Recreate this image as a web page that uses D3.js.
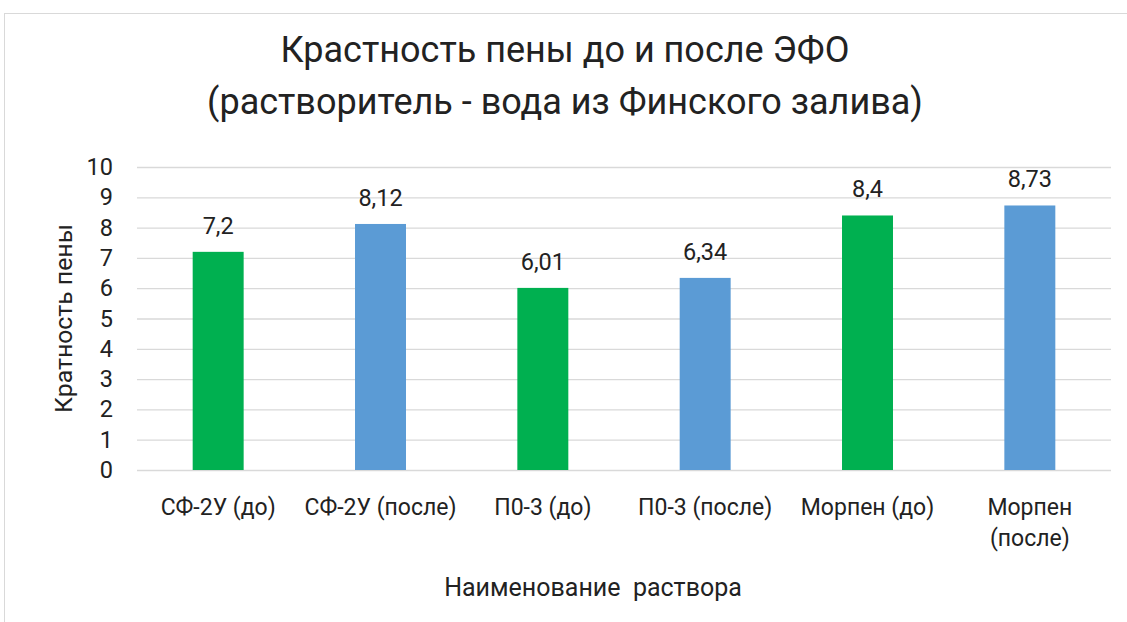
<!DOCTYPE html>
<html>
<head>
<meta charset="utf-8">
<script src="https://cdn.jsdelivr.net/npm/d3@7"></script>
<style>
  body { margin: 0; background: #fff; }
  text { font-family: Roboto, "Noto Sans", sans-serif; fill: #222; }
</style>
</head>
<body>
<svg id="chart"></svg>
<script>
// data
const categories = ["СФ-2У (до)", "СФ-2У (после)", "П0-3 (до)", "П0-3 (после)", "Морпен (до)", "Морпен (после)"];
const values = [7.2, 8.12, 6.01, 6.34, 8.4, 8.73];
const stages = ["до", "после", "до", "после", "до", "после"];
const yTicks = [0, 1, 2, 3, 4, 5, 6, 7, 8, 9, 10];
const titleLines = ["Крастность пены до и после ЭФО", "(растворитель - вода из Финского залива)"];
const yTitle = "Кратность пены";
const xTitle = "Наименование  раствора";

const width = 1127, height = 622;
const margin = { left: 137, right: 16, top: 167, bottom: 152 };

const svg = d3.select("#chart").attr("width", width).attr("height", height);

// chart frame
svg.append("rect")
  .attr("x", 4.5).attr("y", 13.5)
  .attr("width", 1300).attr("height", 800)
  .attr("fill", "#fff").attr("stroke", "#d9d9d9");

const x = d3.scaleBand()
  .domain(categories)
  .range([margin.left, width - margin.right])
  .paddingInner(0.686).paddingOuter(0.343);

const y = d3.scaleLinear().domain([0, 10]).range([height - margin.bottom, margin.top]);

const color = d3.scaleOrdinal().domain(["до", "после"]).range(["#00b050", "#5b9bd5"]);

// gridlines
svg.append("g")
  .selectAll("line")
  .data(yTicks)
  .join("line")
  .attr("x1", margin.left).attr("x2", width - margin.right)
  .attr("y1", d => y(d) + 0.5).attr("y2", d => y(d) + 0.5)
  .attr("stroke", "#d9d9d9").attr("stroke-width", 1.3);

// y axis labels
const yAxis = svg.append("g")
  .attr("transform", `translate(${margin.left - 24},0)`)
  .call(d3.axisLeft(y).tickValues(yTicks).tickSize(0).tickPadding(0));
yAxis.select(".domain").remove();
yAxis.selectAll("text")
  .attr("font-size", 23.5).attr("fill", "#222")
  .attr("font-family", "Roboto, sans-serif");

// bars
svg.append("g")
  .selectAll("rect")
  .data(values)
  .join("rect")
  .attr("x", (d, i) => x(categories[i]))
  .attr("width", x.bandwidth())
  .attr("y", d => y(d))
  .attr("height", d => y(0) - y(d))
  .attr("fill", (d, i) => color(stages[i]));

// data labels
svg.append("g")
  .selectAll("text")
  .data(values)
  .join("text")
  .attr("x", (d, i) => x(categories[i]) + x.bandwidth() / 2)
  .attr("y", d => y(d) - 18)
  .attr("text-anchor", "middle")
  .attr("font-size", 23.5)
  .text(d => String(d).replace(".", ","));

// category labels, wrapped when wider than the band step
const catG = svg.append("g");
categories.forEach((c, i) => {
  const cx = x(c) + x.bandwidth() / 2;
  const t = catG.append("text")
    .attr("x", cx).attr("y", 515)
    .attr("text-anchor", "middle")
    .attr("font-size", 23)
    .text(c);
  if (t.node().getComputedTextLength() > x.step() - 4) {
    const words = c.split(" ");
    t.text(null);
    words.forEach((w, j) => {
      t.append("tspan").attr("x", cx).attr("dy", j === 0 ? 0 : 31).text(w);
    });
  }
});

// axis titles
svg.append("text")
  .attr("transform", `translate(72,${(y(0) + y(10)) / 2}) rotate(-90)`)
  .attr("text-anchor", "middle")
  .attr("font-size", 24.8)
  .text(yTitle);

svg.append("text")
  .attr("x", 593).attr("y", 596)
  .attr("text-anchor", "middle")
  .attr("font-size", 25)
  .style("white-space", "pre")
  .text(xTitle);

// title
svg.append("g")
  .selectAll("text")
  .data(titleLines)
  .join("text")
  .attr("x", 565)
  .attr("y", (d, i) => 62 + i * 52)
  .attr("text-anchor", "middle")
  .attr("font-size", 36)
  .attr("fill", "#000")
  .text(d => d);
</script>
</body>
</html>
